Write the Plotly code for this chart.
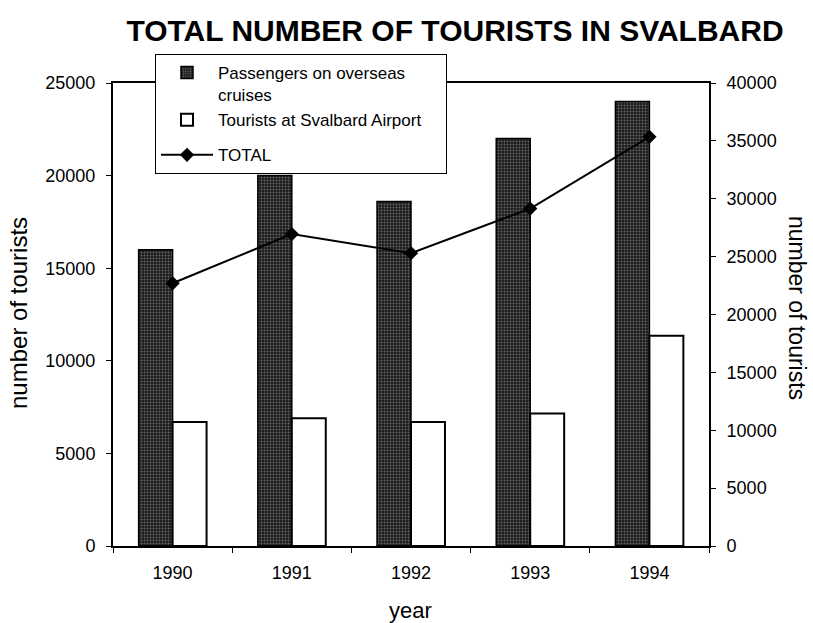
import plotly.graph_objects as go

years = ["1990", "1991", "1992", "1993", "1994"]
cruise_passengers = [16000, 20000, 18600, 22000, 24000]
airport_tourists = [6700, 6900, 6700, 7150, 11350]
total_tourists = [22700, 26950, 25300, 29150, 35350]

left_ticks = [0, 5000, 10000, 15000, 20000, 25000]
right_ticks = [0, 5000, 10000, 15000, 20000, 25000, 30000, 35000, 40000]

FONT = "Liberation Sans, Arial, sans-serif"

# plot-area geometry in pixels
W, H = 813, 623
L, R, T, B = 113, 709, 83, 546
PW, PH = R - L, B - T

fig = go.Figure()

fig.add_trace(go.Bar(
    x=years, y=cruise_passengers,
    name="Passengers on overseas<br>cruises",
    legendgroup="bars",
    marker=dict(
        color="#1a1a1a",
        line=dict(color="black", width=1.5),
        pattern=dict(shape=".", fgcolor="#b0b0b0", size=3, solidity=0.35),
    ),
))
fig.add_trace(go.Bar(
    x=years, y=airport_tourists,
    name="Tourists at Svalbard Airport&nbsp;&nbsp;&nbsp;&nbsp;",
    legendgroup="bars",
    marker=dict(color="white", line=dict(color="black", width=2)),
))
fig.add_trace(go.Scatter(
    x=years, y=total_tourists, yaxis="y2",
    name="TOTAL", mode="lines+markers",
    legendgroup="total",
    line=dict(color="black", width=2),
    marker=dict(symbol="diamond", size=11, color="black"),
))

axis_common = dict(
    showline=True, linecolor="black", linewidth=2,
    ticks="outside", ticklen=5, tickcolor="black", tickwidth=1,
    showgrid=False, zeroline=False,
    tickfont=dict(size=18),
)

fig.update_layout(
    width=W, height=H,
    margin=dict(l=L, r=W - R, t=T, b=H - B),
    paper_bgcolor="white", plot_bgcolor="white",
    font=dict(family=FONT, color="black", size=18),
    barmode="group", bargap=0.43, bargroupgap=0,
    showlegend=True,
    title=dict(
        text="<b>TOTAL NUMBER OF TOURISTS IN SVALBARD</b>",
        font=dict(family=FONT, size=30, color="black"),
        x=455 / W, xanchor="center", xref="container",
        y=1 - 30 / H, yanchor="middle", yref="container",
    ),
    xaxis=dict(
        type="category", tickson="boundaries", mirror=True,
        ticklabelstandoff=9,
        **axis_common,
    ),
    yaxis=dict(
        range=[0, 25000], tickvals=left_ticks, tickformat="d",
        ticklabelstandoff=7,
        **axis_common,
    ),
    yaxis2=dict(
        range=[0, 40000], tickvals=right_ticks, tickformat="d",
        overlaying="y", side="right",
        ticklabelstandoff=7,
        **axis_common,
    ),
    legend=dict(
        x=(155 - L) / PW, y=(B - 54) / PH,
        xanchor="left", yanchor="top",
        bgcolor="white", bordercolor="black", borderwidth=1,
        font=dict(size=17), traceorder="grouped", tracegroupgap=10,
        valign="top", itemwidth=52,
    ),
    annotations=[
        dict(text="number of tourists", textangle=-90,
             xref="paper", yref="paper", x=(18 - L) / PW, y=(B - 313) / PH,
             showarrow=False, font=dict(size=24),
             xanchor="center", yanchor="middle"),
        dict(text="number of tourists", textangle=90,
             xref="paper", yref="paper", x=(797 - L) / PW, y=(B - 308) / PH,
             showarrow=False, font=dict(size=23),
             xanchor="center", yanchor="middle"),
        dict(text="year",
             xref="paper", yref="paper", x=(410 - L) / PW, y=(B - 610) / PH,
             showarrow=False, font=dict(size=22),
             xanchor="center", yanchor="middle"),
    ],
)

fig.write_html("out.html")
